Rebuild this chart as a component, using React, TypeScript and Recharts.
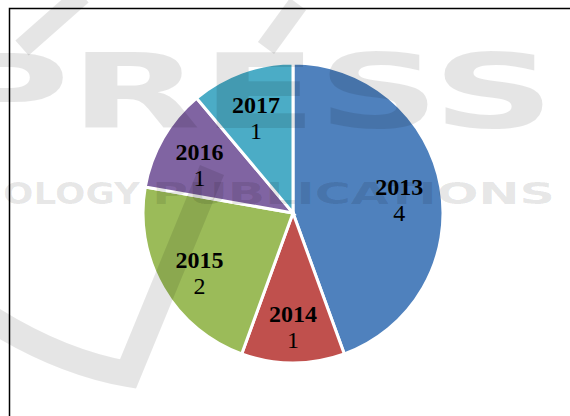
import { PieChart, Pie, Cell } from 'recharts';

/* data */
const years = ['2013', '2014', '2015', '2016', '2017'];
const counts = [4, 1, 2, 1, 1];

/* style */
const COLORS = ['#4F81BD', '#C0504D', '#9BBB59', '#8064A2', '#4BACC6'];
const SERIF = "'Liberation Serif', 'Times New Roman', serif";
const SANS = "'DejaVu Sans', sans-serif";
const WATERMARK = 'rgba(0,0,0,0.1)';

const data = years.map((y, i) => ({ name: y, value: counts[i] }));

const RAD = Math.PI / 180;

// year in bold, count below it, placed inside the slice
function SliceLabel(props: any) {
  const { cx, cy, midAngle, outerRadius, payload } = props;
  const r = outerRadius * 0.72;
  const x = cx + r * Math.cos(-midAngle * RAD);
  const y = cy + r * Math.sin(-midAngle * RAD) + 6;
  return (
    <text x={x} y={y} textAnchor="middle" fontFamily={SERIF} fontSize={24} fill="#000">
      <tspan x={x} y={y - 5} fontWeight="bold">
        {payload.name}
      </tspan>
      <tspan x={x} y={y + 21}>
        {payload.value}
      </tspan>
    </text>
  );
}

export default function App() {
  return (
    <div
      style={{
        position: 'absolute',
        left: 0,
        top: 0,
        width: 570,
        height: 416,
        background: '#fff',
        overflow: 'hidden',
      }}
    >
      <PieChart width={570} height={416} margin={{ top: 0, right: 0, bottom: 0, left: 0 }}>
        <Pie
          data={data}
          dataKey="value"
          nameKey="name"
          cx={293}
          cy={213}
          outerRadius={150}
          startAngle={90}
          endAngle={-270}
          stroke="#fff"
          strokeWidth={3}
          label={SliceLabel}
          labelLine={false}
          isAnimationActive={false}
        >
          {data.map((d, i) => (
            <Cell key={d.name} fill={COLORS[i]} />
          ))}
        </Pie>
      </PieChart>

      {/* frame and faint publisher watermark on top */}
      <svg
        width={570}
        height={416}
        style={{ position: 'absolute', left: 0, top: 0, pointerEvents: 'none' }}
      >
        <path
          d="M -10 318 Q 60 362 128 374 L 212 170"
          fill="none"
          stroke={WATERMARK}
          strokeWidth={26}
        />
        <path d="M 82 -5 L 22 48" fill="none" stroke={WATERMARK} strokeWidth={20} />
        <path d="M 298 4 L 266 48" fill="none" stroke={WATERMARK} strokeWidth={20} />
        <text
          x={-55}
          y={128}
          fontFamily={SANS}
          fontWeight="bold"
          fontSize={104}
          textLength={610}
          lengthAdjust="spacingAndGlyphs"
          fill={WATERMARK}
        >
          PRESS
        </text>
        <text
          x={-132}
          y={204}
          fontFamily={SANS}
          fontWeight="bold"
          fontSize={30}
          textLength={272}
          lengthAdjust="spacingAndGlyphs"
          fill={WATERMARK}
        >
          TECHNOLOGY
        </text>
        <text
          x={152}
          y={204}
          fontFamily={SANS}
          fontWeight="bold"
          fontSize={30}
          textLength={403}
          lengthAdjust="spacingAndGlyphs"
          fill={WATERMARK}
        >
          PUBLICATIONS
        </text>
        <rect x={9.5} y={8.5} width={700} height={600} fill="none" stroke="#000" strokeWidth={1.5} />
      </svg>
    </div>
  );
}
